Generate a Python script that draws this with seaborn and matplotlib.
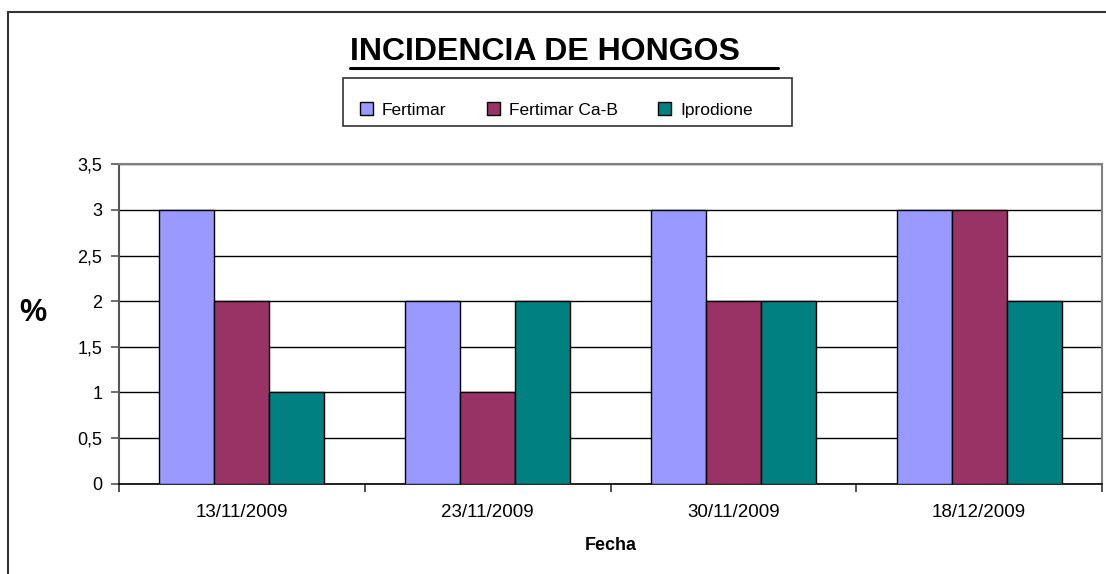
import matplotlib
matplotlib.use("Agg")
import matplotlib.pyplot as plt
import seaborn as sns
import pandas as pd
from matplotlib.patches import Rectangle
from matplotlib.lines import Line2D
from matplotlib.ticker import FuncFormatter, MultipleLocator

# ---- data ----
fechas = ["13/11/2009", "23/11/2009", "30/11/2009", "18/12/2009"]
series_names = ["Fertimar", "Fertimar Ca-B", "Iprodione"]
fertimar = [3, 2, 3, 3]
fertimar_cab = [2, 1, 2, 3]
iprodione = [1, 2, 2, 2]
colors = ["#9999FF", "#993366", "#008080"]

rows = []
for name, vals in zip(series_names, [fertimar, fertimar_cab, iprodione]):
    for f, v in zip(fechas, vals):
        rows.append({"Fecha": f, "Serie": name, "Valor": v})
df = pd.DataFrame(rows)

sns.set_style("white")
plt.rcParams["font.family"] = ["Liberation Sans", "DejaVu Sans"]
plt.rcParams["text.color"] = "black"
plt.rcParams["axes.labelcolor"] = "black"
plt.rcParams["xtick.color"] = "black"
plt.rcParams["ytick.color"] = "black"

W, H = 1106, 574
fig = plt.figure(figsize=(W / 100, H / 100), dpi=100)
ax = fig.add_axes([119 / W, 1 - 483.5 / H, (1102 - 119) / W, (483.5 - 164.3) / H])

sns.barplot(data=df, x="Fecha", y="Valor", hue="Serie", order=fechas,
            hue_order=series_names, palette=colors, width=0.671, gap=0,
            edgecolor="black", linewidth=1.0, saturation=1, ax=ax,
            legend=False, zorder=3)

ax.set_ylim(0, 3.5)
ax.set_xlim(-0.5, len(fechas) - 0.5)
ax.yaxis.set_major_locator(MultipleLocator(0.5))
ax.yaxis.set_major_formatter(FuncFormatter(
    lambda v, p: (f"{v:g}").replace(".", ",")))
ax.grid(axis="y", color="black", linewidth=1.0, zorder=0)
ax.set_axisbelow(True)

for s in ["top", "right"]:
    ax.spines[s].set_color("#808080")
    ax.spines[s].set_linewidth(1.5)
ax.spines["left"].set_color("#555555")
ax.spines["left"].set_linewidth(1.5)
ax.spines["bottom"].set_color("black")
ax.spines["bottom"].set_linewidth(1.2)

ax.tick_params(axis="y", left=True, length=6, width=1.2, color="#555555",
               labelsize=13, pad=6, labelcolor="black")
ax.set_xticks([i - 0.5 for i in range(len(fechas) + 1)], minor=False)
ax.set_xticklabels([""] * (len(fechas) + 1))
ax.set_xticks(range(len(fechas)), minor=True)
ax.set_xticklabels(fechas, minor=True)
ax.tick_params(axis="x", which="major", bottom=True, length=6, width=1.2,
               color="#333333")
ax.tick_params(axis="x", which="minor", bottom=False, length=0,
               labelsize=13.5, pad=15, labelcolor="black")

ax.set_xlabel("Fecha", fontsize=13, fontweight="bold", labelpad=11,
              color="black")
ax.set_ylabel("")
fig.text(33 / W, 1 - 313 / H, "%", fontsize=22, fontweight="bold",
         ha="center", va="center", color="black")

# title with underline (including trailing underlined spaces)
fig.text(350 / W, 1 - 52 / H, "INCIDENCIA DE HONGOS", fontsize=23,
         fontweight="bold", ha="left", va="center", color="black")
fig.add_artist(Line2D([350 / W, 778 / W], [1 - 67.5 / H, 1 - 67.5 / H],
                      color="black", linewidth=2.2, transform=fig.transFigure))

# legend
handles = [Rectangle((0, 0), 1, 1, facecolor=c, edgecolor="black", linewidth=1)
           for c in colors]
leg = fig.legend(handles, series_names, loc="center left",
                 bbox_to_anchor=(360 / W, 1 - 110 / H), ncol=3, frameon=False,
                 fontsize=12.5, handlelength=0.75, handleheight=0.75,
                 handletextpad=0.5, columnspacing=2.35, borderpad=0,
                 borderaxespad=0)
for t in leg.get_texts():
    t.set_color("black")
fig.add_artist(Rectangle((343 / W, 1 - 126 / H), (792 - 343) / W, (126 - 78) / H,
                         transform=fig.transFigure, facecolor="none",
                         edgecolor="#333333", linewidth=1.2))

# outer chart border (left/top visible)
fig.add_artist(Rectangle((8 / W, -0.1), 1.2, 1 - 12.5 / H + 0.1,
                         transform=fig.transFigure, facecolor="none",
                         edgecolor="#333333", linewidth=1.5))

fig.savefig("out.png", dpi=100)
